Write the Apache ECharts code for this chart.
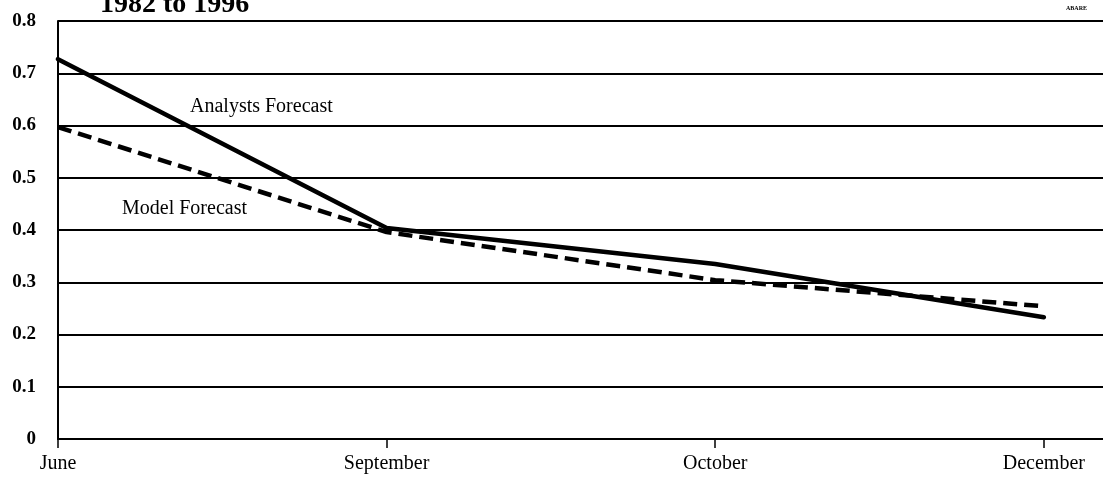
<!DOCTYPE html>
<html>
<head>
<meta charset="utf-8">
<title>Forecast</title>
<style>
  html, body { margin: 0; padding: 0; background: #fff; }
  #chart { width: 1103px; height: 479px; }
</style>
</head>
<body>
<div id="chart"></div>
<script src="https://cdn.jsdelivr.net/npm/echarts@6/dist/echarts.min.js"></script>
<script>
// months on the x axis
var months = ['June', 'September', 'October', 'December'];
// series values
var analysts = [0.727, 0.404, 0.335, 0.233];
var model = [0.597, 0.396, 0.304, 0.254];
var yTicks = [0, 0.1, 0.2, 0.3, 0.4, 0.5, 0.6, 0.7, 0.8];

function pairs(vals) {
  return vals.map(function (v, i) { return [i, v]; });
}

var chart = echarts.init(document.getElementById('chart'));
var serif = '"Liberation Serif", "DejaVu Serif", serif';

chart.setOption({
  animation: false,
  backgroundColor: '#fff',
  grid: { left: 58, right: 0, top: 21, bottom: 40 },
  xAxis: {
    type: 'value',
    min: 0,
    max: 3.18,
    interval: 1,
    axisLine: { show: true, lineStyle: { color: '#000', width: 2 } },
    axisTick: { show: true, length: 9, lineStyle: { color: '#000', width: 1.5 } },
    splitLine: { show: false },
    axisLabel: {
      showMaxLabel: false,
      margin: 15,
      color: '#000',
      fontFamily: serif,
      fontSize: 20,
      formatter: function (v) { return months[v] || ''; }
    }
  },
  yAxis: {
    type: 'value',
    min: 0,
    max: 0.8,
    interval: 0.1,
    axisLine: { show: true, lineStyle: { color: '#000', width: 2 } },
    axisTick: { show: false },
    splitLine: { show: true, lineStyle: { color: '#000', width: 2 } },
    axisLabel: {
      margin: 22,
      color: '#000',
      fontFamily: serif,
      fontSize: 19,
      fontWeight: 'bold',
      formatter: function (v) {
        var t = yTicks.filter(function (x) { return Math.abs(x - v) < 1e-6; });
        return t.length ? String(Math.round(v * 10) / 10) : '';
      }
    }
  },
  series: [
    {
      name: 'Analysts Forecast',
      type: 'line',
      data: pairs(analysts),
      symbol: 'none',
      lineStyle: { color: '#000', width: 4.5, cap: 'round' }
    },
    {
      name: 'Model Forecast',
      type: 'line',
      data: pairs(model),
      symbol: 'none',
      lineStyle: { color: '#000', width: 4.5, type: [14, 7] }
    }
  ],
  graphic: [
    {
      type: 'text', x: 100, y: 19,
      style: { text: '1982 to 1996', font: 'bold 28px ' + serif, fill: '#000', verticalAlign: 'bottom' }
    },
    {
      type: 'text', x: 190, y: 107,
      style: { text: 'Analysts Forecast', font: '20px ' + serif, fill: '#000', verticalAlign: 'middle' }
    },
    {
      type: 'text', x: 122, y: 209,
      style: { text: 'Model Forecast', font: '20px ' + serif, fill: '#000', verticalAlign: 'middle' }
    },
    {
      type: 'text', x: 1066, y: 5,
      style: { text: 'ABARE', font: 'bold 6px ' + serif, fill: '#000' }
    }
  ]
});
</script>
</body>
</html>
